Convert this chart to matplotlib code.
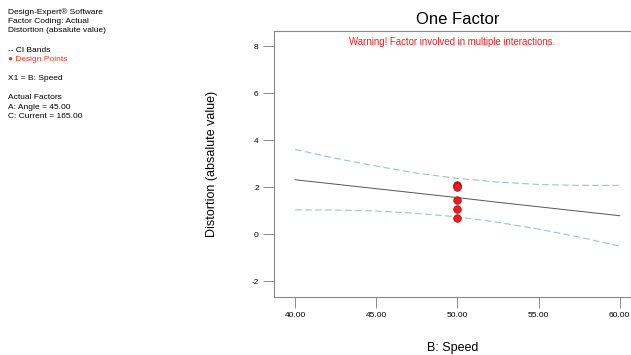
import matplotlib

matplotlib.use("Agg")
import matplotlib.pyplot as plt

plt.rcParams["font.family"] = ["Liberation Sans", "DejaVu Sans"]
plt.rcParams["axes.unicode_minus"] = False

# values
speed = [40.0, 42.5, 45.0, 47.5, 50.0, 52.5, 55.0, 57.5, 60.0]
predicted = [2.31, 2.12, 1.93, 1.74, 1.55, 1.35, 1.16, 0.97, 0.78]
ci_upper = [3.60, 3.22, 2.89, 2.59, 2.37, 2.21, 2.11, 2.07, 2.07]
ci_lower = [1.03, 1.02, 0.98, 0.88, 0.73, 0.50, 0.21, -0.13, -0.51]

design_speed = [50.0, 50.0, 50.0, 50.0, 50.0, 50.0]
design_distortion = [2.10, 2.04, 1.98, 1.46, 1.08, 0.70]

x_ticks = [40, 45, 50, 55, 60]
x_tick_labels = ["40.00", "45.00", "50.00", "55.00", "60.00"]
y_ticks = [-2, 0, 2, 4, 6, 8]

info_lines = [
    ("Design-Expert\u00ae Software", "black"),
    ("Factor Coding: Actual", "black"),
    ("Distortion (absalute value)", "black"),
    ("", "black"),
    ("-- CI Bands", "black"),
    ("\u25cf Design Points", "#e8381c"),
    ("", "black"),
    ("X1 = B: Speed", "black"),
    ("", "black"),
    ("Actual Factors", "black"),
    ("A: Angle = 45.00", "black"),
    ("C: Current = 165.00", "black"),
]

fig = plt.figure(figsize=(6.31, 3.55), dpi=100)
ax = fig.add_axes([274 / 631, 58 / 355, 357 / 631, 266 / 355])

ax.plot(speed, predicted, color="#555555", linewidth=0.7)
ax.plot(speed, ci_upper, color="#9cc4c4", linewidth=0.8, linestyle=(0, (6, 3)))
ax.plot(speed, ci_lower, color="#9cc4c4", linewidth=0.8, linestyle=(0, (6, 3)))
ax.scatter(design_speed, design_distortion, s=30, color="#ee1c1c",
           edgecolor="#a01010", linewidth=0.5, zorder=3)

ax.set_xlim(38.7, 60.7)
ax.set_ylim(-2.68, 8.64)
ax.set_xticks(x_ticks)
ax.set_xticklabels(x_tick_labels)
ax.set_yticks(y_ticks)
ax.tick_params(axis="both", labelsize=6, length=8, width=0.6, color="#777777", pad=3)
for side in ["left", "bottom", "top", "right"]:
    ax.spines[side].set_color("#888888")
    ax.spines[side].set_linewidth(0.8)

ax.set_xlabel("B: Speed", fontsize=9, labelpad=16)
ax.set_ylabel("Distortion (absalute value)", fontsize=9, labelpad=24)

fig.text(458 / 631, 1 - 20 / 355, "One Factor", fontsize=12, ha="center", va="center")
ax.text(0.5, 0.96, "Warning! Factor involved in multiple interactions.",
        transform=ax.transAxes, color="#ee2222", fontsize=6.9, ha="center", va="center")

for i, (line, color) in enumerate(info_lines):
    fig.text(8 / 631, 1 - (12 + i * 9.5) / 355, line, fontsize=6.0, color=color,
             ha="left", va="center")

fig.savefig("out.png", dpi=100)
